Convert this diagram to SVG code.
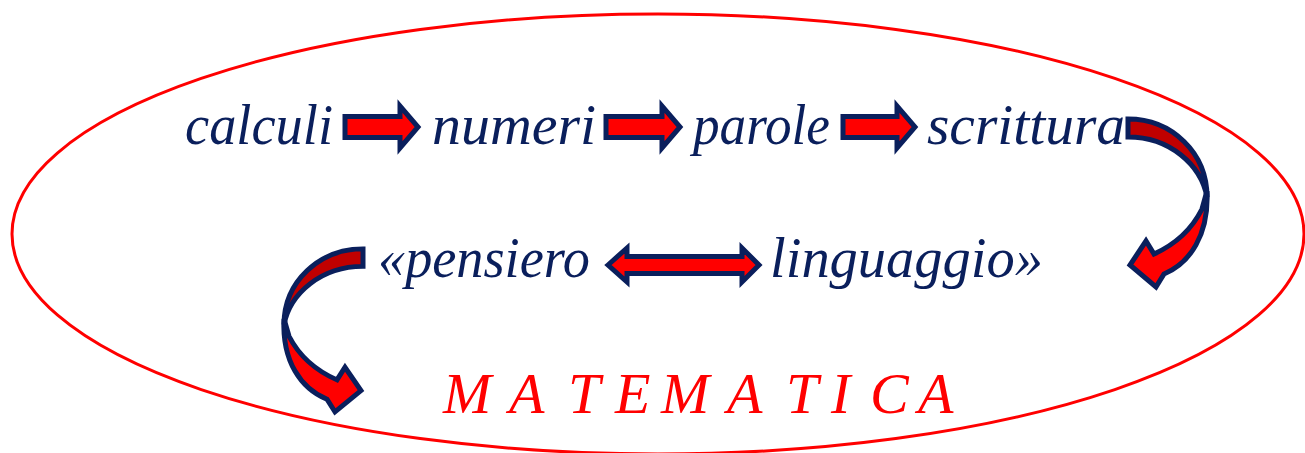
<svg xmlns="http://www.w3.org/2000/svg" xmlns:xlink="http://www.w3.org/1999/xlink" width="1305" height="453" viewBox="0 0 1305 453">
<style>
.w{font-family:"Liberation Serif","Times New Roman",serif;font-style:italic;font-size:57px;fill:#0a1f5c}
.m{font-family:"Liberation Serif","Times New Roman",serif;font-style:italic;font-size:58px;fill:#ff0000}
.ar{fill:#ff0000;stroke:#0a1f5c;stroke-width:5;stroke-linejoin:miter}
.bk{fill:#c00000;stroke:#0a1f5c;stroke-width:5;stroke-linejoin:miter}
</style>
<defs>
<g id="curve">
<path class="bk" d="M0,2 C44,2 79,36 79,80 C73,48 42,20 0,20 Z"/>
<path class="ar" d="M79,74 C81,118 62,146 36,157 L28,170 L2,148 L18,124 L26,137 C48,127 64,112 74,92 Z"/>
</g>
</defs>
<ellipse id="frame" cx="658" cy="234" rx="646" ry="220" fill="none" stroke="#ff0000" stroke-width="3"/>
<g id="connectors">
<path class="ar" d="M345,116.5 L400,116.5 L400,106 L418,127 L400,148 L400,137.5 L345,137.5 Z"/>
<path class="ar" d="M606,116.5 L662,116.5 L662,106 L680,127 L662,148 L662,137.5 L606,137.5 Z"/>
<path class="ar" d="M843,116.5 L897,116.5 L897,106 L915,127 L897,148 L897,137.5 L843,137.5 Z"/>
<path class="ar" d="M608,265 L627,248 L627,256.5 L742,256.5 L742,248 L759,265 L742,282 L742,273.5 L627,273.5 L627,282 Z"/>
<use xlink:href="#curve" transform="translate(1128,117)"/>
<use xlink:href="#curve" transform="translate(363,247) scale(-1,0.97)"/>
</g>
<g id="n-calculi"><text class="w" x="185" y="144" textLength="148" lengthAdjust="spacingAndGlyphs">calculi</text></g>
<g id="n-numeri"><text class="w" x="432" y="144" textLength="164" lengthAdjust="spacingAndGlyphs">numeri</text></g>
<g id="n-parole"><text class="w" x="693" y="144" textLength="137" lengthAdjust="spacingAndGlyphs">parole</text></g>
<g id="n-scrittura"><text class="w" x="927" y="144" textLength="198" lengthAdjust="spacingAndGlyphs">scrittura</text></g>
<g id="n-pensiero"><text class="w" x="378" y="277" textLength="212" lengthAdjust="spacingAndGlyphs">«pensiero</text></g>
<g id="n-linguaggio"><text class="w" x="770" y="277" textLength="273" lengthAdjust="spacingAndGlyphs">linguaggio»</text></g>
<g id="n-matematica"><text class="m" x="443 509 568 615 661 727 786 831 870 918" y="413">MATEMATICA</text></g>
</svg>
